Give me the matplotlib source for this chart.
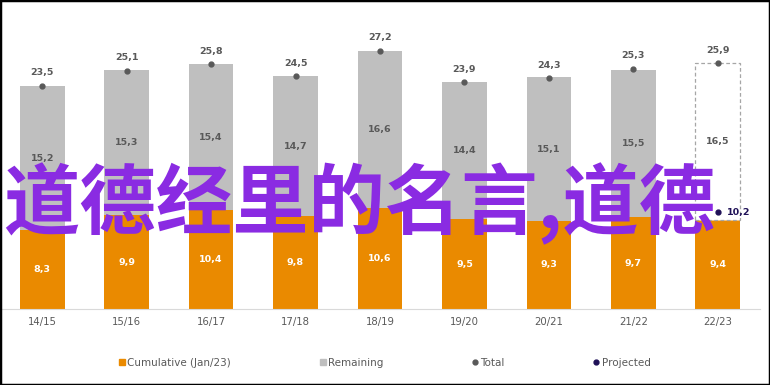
import matplotlib
matplotlib.use("Agg")
from matplotlib import pyplot as plt
from matplotlib.patches import Rectangle
from matplotlib.lines import Line2D

seasons = ["14/15", "15/16", "16/17", "17/18", "18/19", "19/20", "20/21", "21/22", "22/23"]
cumulative = [8.3, 9.9, 10.4, 9.8, 10.6, 9.5, 9.3, 9.7, 9.4]
remaining = [15.2, 15.3, 15.4, 14.7, 16.6, 14.4, 15.1, 15.5, 16.5]
totals = [23.5, 25.1, 25.8, 24.5, 27.2, 23.9, 24.3, 25.3, 25.9]
projected = 10.2

ORANGE = "#EA8A00"
GRAY = "#BFBFBF"
TXT = "#595959"
NAVY = "#1F1157"

def fmt(v):
    return ("%.1f" % v).replace(".", ",")

fig = plt.figure(figsize=(7.7, 3.85), dpi=100)
ax = fig.add_axes([0.0, 0.197, 0.987, 0.74])

x = list(range(len(seasons)))
w = 0.53
ax.bar(x, cumulative, width=w, color=ORANGE, zorder=2)
# last season is the projection: dashed empty box instead of gray
ax.bar(x[:-1], remaining[:-1], bottom=cumulative[:-1], width=w, color=GRAY, zorder=2)
ax.bar(x[-1], remaining[-1], bottom=cumulative[-1], width=w, facecolor="white",
       edgecolor="#A6A6A6", linestyle=(0, (3, 2)), linewidth=0.9, zorder=2)

ax.plot(x, totals, "o", color=TXT, markersize=3.5, zorder=3)
ax.plot(x[-1], projected, "o", color=NAVY, markersize=3.5, zorder=3)

fs = 6.8
for i in x:
    ax.text(i, cumulative[i] / 2, fmt(cumulative[i]), ha="center", va="center",
            color="white", fontsize=fs, fontweight="bold")
    ax.text(i, cumulative[i] + remaining[i] / 2, fmt(remaining[i]), ha="center", va="center",
            color=TXT, fontsize=fs, fontweight="bold")
    ax.text(i, totals[i] + 0.9, fmt(totals[i]), ha="center", va="bottom",
            color=TXT, fontsize=fs, fontweight="bold")
ax.text(x[-1] + 0.11, projected, fmt(projected), ha="left", va="center",
        color=NAVY, fontsize=fs, fontweight="bold")

ax.set_xlim(-0.5, 8.5)
ax.set_ylim(0, 30)
ax.set_xticks(x)
ax.set_xticklabels(seasons, color=TXT, fontsize=7.3)
ax.tick_params(axis="x", length=0, pad=6)
ax.set_yticks([])
for s in ["top", "right", "left"]:
    ax.spines[s].set_visible(False)
ax.spines["bottom"].set_color("#D9D9D9")

handles = [
    Line2D([], [], marker="s", linestyle="", color=ORANGE, markersize=5),
    Line2D([], [], marker="s", linestyle="", color=GRAY, markersize=5),
    Line2D([], [], marker="o", linestyle="", color=TXT, markersize=3.5),
    Line2D([], [], marker="o", linestyle="", color=NAVY, markersize=3.5),
]
labels = ["Cumulative (Jan/23)", "Remaining", "Total", "Projected"]
leg = fig.legend(handles, labels, loc="center", bbox_to_anchor=(0.499, 0.057), ncol=4,
                 frameon=False, fontsize=7.5, handletextpad=0.1, columnspacing=8.4,
                 handlelength=0.8)
for t in leg.get_texts():
    t.set_color(TXT)

# watermark text over the chart
fig.text(0.004, 0.472, "道德经里的名言,道德", ha="left", va="center", color="#8A2BE2",
         fontsize=55, fontweight="bold", family=["Noto Sans CJK SC", "DejaVu Sans"])

fig.patches.append(Rectangle((0, 0), 1, 1, transform=fig.transFigure, fill=False,
                             edgecolor="black", linewidth=2.5))

fig.savefig("out.png", dpi=100)
